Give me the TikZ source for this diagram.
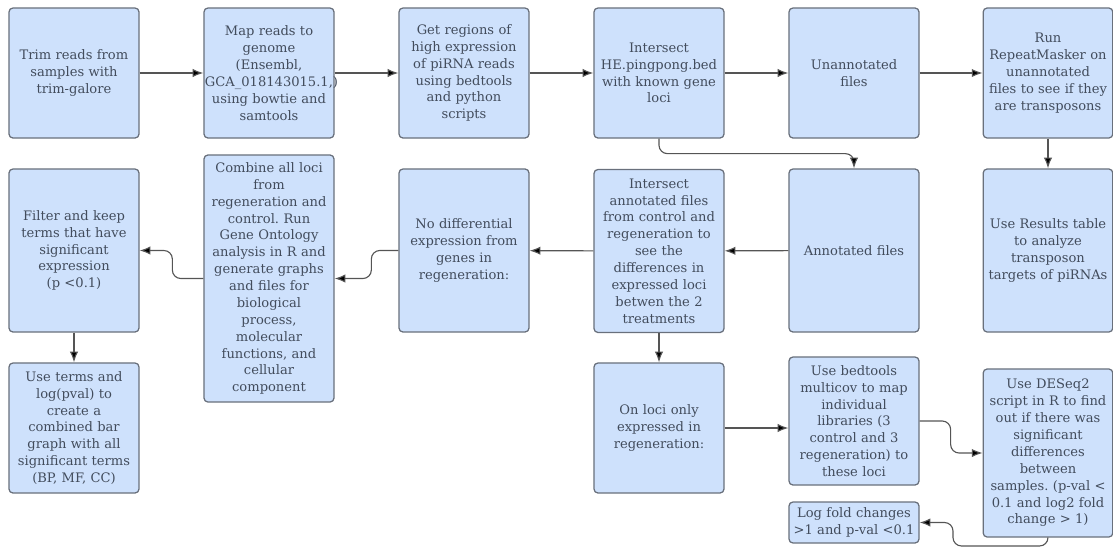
\documentclass[tikz,border=0pt]{standalone}
\usepackage{fontspec}
\setmainfont{DejaVu Serif}
\usepackage{tikz}
\usetikzlibrary{arrows.meta}
\usepackage{xcolor}
\definecolor{boxfill}{RGB}{206,225,252}
\definecolor{boxline}{RGB}{105,112,124}
\definecolor{boxtext}{RGB}{66,76,92}
\definecolor{wire}{RGB}{85,85,85}
\frenchspacing

\begin{document}
\begin{tikzpicture}[x=0.025cm,y=-0.025cm,
  box/.style={draw=boxline,fill=boxfill,line width=0.9pt,rounded corners=0.1cm,
    text=boxtext,align=center,text width=3.2cm,inner sep=0.02cm,
    minimum width=3.25cm,font=\fontsize{9.3}{12}\selectfont},
  sq/.style={box,minimum height=3.25cm},
  tall/.style={box,minimum height=4.075cm},
  link/.style={draw=wire,line width=0.8pt,rounded corners=6pt,
    -{Latex[length=2.7mm,width=2.1mm,fill=black]}}]
 \useasboundingbox (0,0) rectangle (1113,548);
 % first row
 \node[sq] (trim) at (74,73) {Trim reads from\\samples with\\trim-galore};
 \node[sq] (map) at (269,73) {Map reads to\\genome\\(Ensembl,\\GCA\_018143015.1,)\\using bowtie and\\samtools};
 \node[sq] (regions) at (464,73) {Get regions of\\high expression\\of piRNA reads\\using bedtools\\and python\\scripts};
 \node[sq] (interHE) at (659,73) {Intersect\\HE.pingpong.bed\\with known gene\\loci};
 \node[sq] (unannot) at (854,73) {Unannotated\\files};
 \node[sq,minimum width=3.2cm] (repeat) at (1048,73) {Run\\RepeatMasker on\\unannotated\\files to see if they\\are transposons};
 % second row
 \node[tall] (filter) at (74,250.5) {Filter and keep\\terms that have\\significant\\expression\\(p <0.1)};
 \node[box,minimum height=6.175cm] (combine) at (269,278.5) {Combine all loci\\from\\regeneration and\\control. Run\\Gene Ontology\\analysis in R and\\generate graphs\\and files for\\biological\\process,\\molecular\\functions, and\\cellular\\component};
 \node[tall] (nodiff) at (464,250.5) {No differential\\expression from\\genes in\\regeneration:};
 \node[tall] (interAnn) at (659,251) {Intersect\\annotated files\\from control and\\regeneration to\\see the\\differences in\\expressed loci\\betwen the 2\\treatments};
 \node[tall] (annot) at (854,250.5) {Annotated files};
 \node[tall,minimum width=3.2cm] (results) at (1048,250.5) {Use Results table\\to analyze\\transposon\\targets of piRNAs};
 % third row
 \node[sq] (terms) at (74,428) {Use terms and\\log(pval) to\\create a\\combined bar\\graph with all\\significant terms\\(BP, MF, CC)};
 \node[sq] (onloci) at (659,428) {On loci only\\expressed in\\regeneration:};
 \node[box,minimum height=3.2cm] (multicov) at (854,421) {Use bedtools\\multicov to map\\individual\\libraries (3\\control and 3\\regeneration) to\\these loci};
 \node[box,minimum height=4.2cm,minimum width=3.2cm] (deseq) at (1048,453) {Use DESeq2\\script in R to find\\out if there was\\significant\\differences\\between\\samples. (p-val <\\0.1 and log2 fold\\change > 1)};
 \node[box,minimum height=1.025cm] (logfold) at (854,522.5) {Log fold changes\\>1 and p-val <0.1};
 \coordinate (low) at (953,546);

 %%%%%%%%%%%%%%%%%%%%%%%%%%%%%%%%%%%
 \draw[link] (trim) -- (map);
 \draw[link] (map) -- (regions);
 \draw[link] (regions) -- (interHE);
 \draw[link] (interHE) -- (unannot);
 \draw[link] (unannot) -- (repeat);
 \draw[link] (interHE.south) -- ++(0,15) -| (annot.north);
 \draw[link] (repeat) -- (results);
 \draw[link] (annot) -- (interAnn);
 \draw[link] (interAnn) -- (nodiff);
 \draw[link] (nodiff.west) -- ++(-27,0) |- (combine.east);
 \draw[link] (combine.west) -- ++(-31,0) |- (filter.east);
 \draw[link] (filter) -- (terms);
 \draw[link] (interAnn) -- (onloci);
 \draw[link] (onloci.east) -- (onloci.east -| multicov.west);
 \draw[link] (multicov.east) -- ++(31,0) |- (deseq.west);
 \draw[link] (deseq.south) |- (low) |- (logfold.east);
\end{tikzpicture}
\end{document}
